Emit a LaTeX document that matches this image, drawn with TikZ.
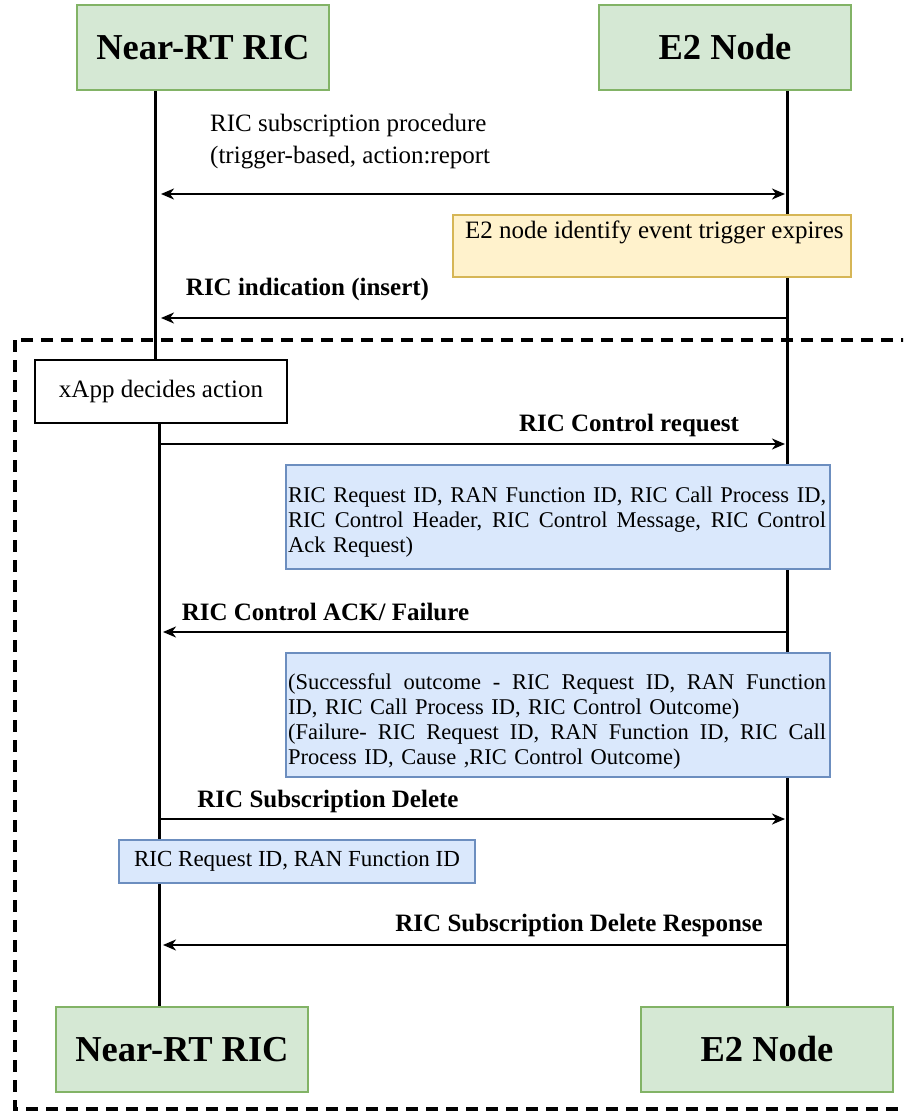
\documentclass[tikz,border=0pt]{standalone}
\usepackage{fontspec}
\setmainfont{Liberation Serif}
\usetikzlibrary{arrows.meta}

\definecolor{actfill}{HTML}{D5E8D4}
\definecolor{actdraw}{HTML}{82B366}
\definecolor{evfill}{HTML}{FFF2CC}
\definecolor{evdraw}{HTML}{D6B656}
\definecolor{infofill}{HTML}{DAE8FC}
\definecolor{infodraw}{HTML}{6C8EBF}

% justified lines inside the parameter boxes: spaces stretch to fill the width
\newlength{\infolinew}
\setlength{\infolinew}{538pt}
\newcommand{\fullline}[1]{\leavevmode\hbox to \infolinew{\spaceskip=.25em plus 1em minus .05em\relax #1}}

\tikzset{
  actor/.style={draw=actdraw, fill=actfill, line width=1.5pt,
    minimum width=252pt, minimum height=85pt, inner sep=0pt,
    font=\fontsize{36.5}{40}\selectfont\bfseries},
  evbox/.style={draw=evdraw, fill=evfill, line width=1.2pt, inner sep=0pt},
  infobox/.style={draw=infodraw, fill=infofill, line width=1.2pt, inner sep=0pt},
  actionbox/.style={draw=black, fill=white, line width=1.5pt, inner sep=0pt,
    minimum width=252pt, minimum height=63pt, font=\fontsize{25}{30}\selectfont},
  lifeline/.style={line width=3pt},
  msg/.style={line width=2pt, -{Stealth[length=13pt,width=11pt,inset=4pt]}},
  msgboth/.style={line width=2pt, {Stealth[length=13pt,width=11pt,inset=4pt]}-{Stealth[length=13pt,width=11pt,inset=4pt]}},
  msglabel/.style={font=\fontsize{25}{30}\selectfont\bfseries, inner sep=0pt},
  plaintext/.style={font=\fontsize{25}{30}\selectfont, inner sep=0pt},
  boxtext/.style={font=\fontsize{22.5}{25}\selectfont, inner sep=0pt, text width=538pt},
  groupframe/.style={line width=4pt, dash pattern=on 12pt off 8pt},
}

\begin{document}
\begin{tikzpicture}[x=1pt, y=-1pt]
  \useasboundingbox (0,0) rectangle (903,1111);
  \clip (0,0) rectangle (903,1111);

  % dashed frame around the control part of the exchange
  \draw[groupframe] (15,340) rectangle (925,1109);

  % participants
  \node[actor] (ricTop) at (203,47.5) {Near-RT RIC};
  \node[actor] (e2Top)  at (725,47.5) {E2 Node};
  \node[actor] (ricBot) at (182,1049.5) {Near-RT RIC};
  \node[actor] (e2Bot)  at (767,1049.5) {E2 Node};

  \node[actionbox] (xapp) at (161,391.5) {xApp decides action};

  % lifeline positions
  \coordinate (ricA) at (155,0);
  \coordinate (ricB) at (159,0);
  \coordinate (e2X)  at (787,0);

  \draw[lifeline] (ricA |- ricTop.south) -- (ricA |- xapp.north);
  \draw[lifeline] (ricB |- xapp.south) -- (ricB |- ricBot.north);
  \draw[lifeline] (e2X |- e2Top.south) -- (e2X |- e2Bot.north);

  % event and parameter boxes
  \node[evbox, minimum width=398pt, minimum height=62pt] (trig) at (652,246) {};
  \node[plaintext, anchor=base west] (trigtxt) at (465,238)
    {E2 node identify event trigger expires};

  \node[infobox, minimum width=544pt, minimum height=104pt] (reqinfo) at (558,517) {};
  \node[boxtext, anchor=base west] (reqtxt) at (288,502)
    {\fullline{RIC Request ID, RAN Function ID, RIC Call Process ID,}\\
     \fullline{RIC Control Header, RIC Control Message, RIC Control}\\
     Ack Request)};

  \node[infobox, minimum width=544pt, minimum height=124pt] (ackinfo) at (558,715) {};
  \node[boxtext, anchor=base west] (acktxt) at (288,689)
    {\fullline{(Successful outcome - RIC Request ID, RAN Function}\\
     ID, RIC Call Process ID, RIC Control Outcome)\\
     \fullline{(Failure- RIC Request ID, RAN Function ID, RIC Call}\\
     Process ID, Cause ,RIC Control Outcome)};

  \node[infobox, minimum width=356pt, minimum height=43pt, font=\fontsize{23}{25}\selectfont]
    (delinfo) at (297,861.5) {RIC Request ID, RAN Function ID};

  % message end points
  \coordinate (m1l) at (161,194);  \coordinate (m1r) at (785,194);
  \coordinate (m2l) at (161,318);  \coordinate (m2r) at (787,318);
  \coordinate (m3l) at (159,444);  \coordinate (m3r) at (785,444);
  \coordinate (m4l) at (163,632);  \coordinate (m4r) at (787,632);
  \coordinate (m5l) at (159,819);  \coordinate (m5r) at (785,819);
  \coordinate (m6l) at (163,945);  \coordinate (m6r) at (787,945);

  % messages
  \draw[msgboth] (m1l) -- (m1r);
  \draw[msg] (m2r) -- (m2l);
  \draw[msg] (m3l) -- (m3r);
  \draw[msg] (m4r) -- (m4l);
  \draw[msg] (m5l) -- (m5r);
  \draw[msg] (m6r) -- (m6l);

  % message labels
  \node[plaintext, anchor=base west] (lbl1a) at (210,131) {RIC subscription procedure};
  \node[plaintext, anchor=base west] (lbl1b) at (210,163) {(trigger-based, action:report};
  \node[msglabel, anchor=base] (lbl2) at (307.5,295) {RIC indication (insert)};
  \node[msglabel, anchor=base] (lbl3) at (629,431) {RIC Control request};
  \node[msglabel, anchor=base] (lbl4) at (325.5,620) {RIC Control ACK/ Failure};
  \node[msglabel, anchor=base] (lbl5) at (328,807) {RIC Subscription Delete};
  \node[msglabel, anchor=base east] (lbl6) at (763,931) {RIC Subscription Delete Response};
\end{tikzpicture}
\end{document}
